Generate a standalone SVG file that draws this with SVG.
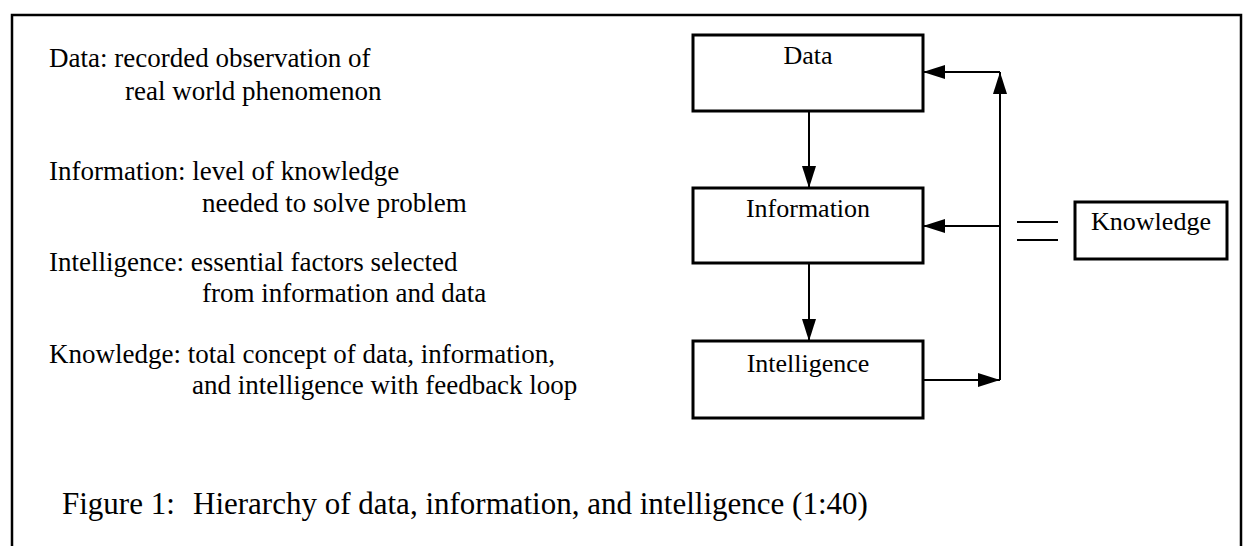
<svg xmlns="http://www.w3.org/2000/svg" width="1251" height="546" viewBox="0 0 1251 546">
<defs>
<marker id="ah" viewBox="0 0 22 14" refX="22" refY="7" markerWidth="22" markerHeight="14" markerUnits="userSpaceOnUse" orient="auto">
<path d="M0,0 L22,7 L0,14 Z" fill="#000"/>
</marker>
<style>
text{font-family:"Liberation Serif","Times New Roman",serif;fill:#000}
.t{font-size:27px}
.b{font-size:26px;text-anchor:middle}
.cap{font-size:31px}
.box{fill:#fff;stroke:#000;stroke-width:3}
.ln{fill:none;stroke:#000;stroke-width:2}
.frame{fill:none;stroke:#000;stroke-width:2.5}
</style>
</defs>
<rect width="1251" height="546" fill="#fff"/>
<path class="frame" d="M12,546 V15 H1241 V546"/>
<g id="definitions">
<text class="t" x="49" y="67">Data: recorded observation of</text>
<text class="t" x="125" y="100">real world phenomenon</text>
<text class="t" x="49" y="180">Information: level of knowledge</text>
<text class="t" x="202" y="212">needed to solve problem</text>
<text class="t" x="49" y="271">Intelligence: essential factors selected</text>
<text class="t" x="202" y="302">from information and data</text>
<text class="t" x="49" y="363">Knowledge: total concept of data, information,</text>
<text class="t" x="192" y="394">and intelligence with feedback loop</text>
</g>
<g id="node-data">
<rect class="box" x="693" y="35" width="230" height="76"/>
<text class="b" x="808" y="64">Data</text>
</g>
<g id="node-information">
<rect class="box" x="693" y="188" width="230" height="75"/>
<text class="b" x="808" y="217">Information</text>
</g>
<g id="node-intelligence">
<rect class="box" x="693" y="341" width="230" height="77"/>
<text class="b" x="808" y="372">Intelligence</text>
</g>
<g id="node-knowledge">
<rect class="box" x="1075" y="202" width="152" height="57"/>
<text class="b" x="1151" y="230">Knowledge</text>
</g>
<g id="equals">
<line class="ln" x1="1017" y1="222" x2="1058" y2="222" stroke-width="3"/>
<line class="ln" x1="1017" y1="240" x2="1058" y2="240" stroke-width="3"/>
</g>
<g id="connectors">
<line class="ln" x1="809" y1="111" x2="809" y2="188" marker-end="url(#ah)"/>
<line class="ln" x1="809" y1="263" x2="809" y2="341" marker-end="url(#ah)"/>
<line class="ln" x1="923" y1="380" x2="1000" y2="380" marker-end="url(#ah)"/>
<line class="ln" x1="1000" y1="380" x2="1000" y2="72" marker-end="url(#ah)"/>
<line class="ln" x1="1000" y1="72" x2="923" y2="72" marker-end="url(#ah)"/>
<line class="ln" x1="1000" y1="226" x2="923" y2="226" marker-end="url(#ah)"/>
</g>
<text id="caption" class="cap" x="62" y="514">Figure 1:<tspan x="193">Hierarchy of data, information, and intelligence (1:40)</tspan></text>
</svg>
